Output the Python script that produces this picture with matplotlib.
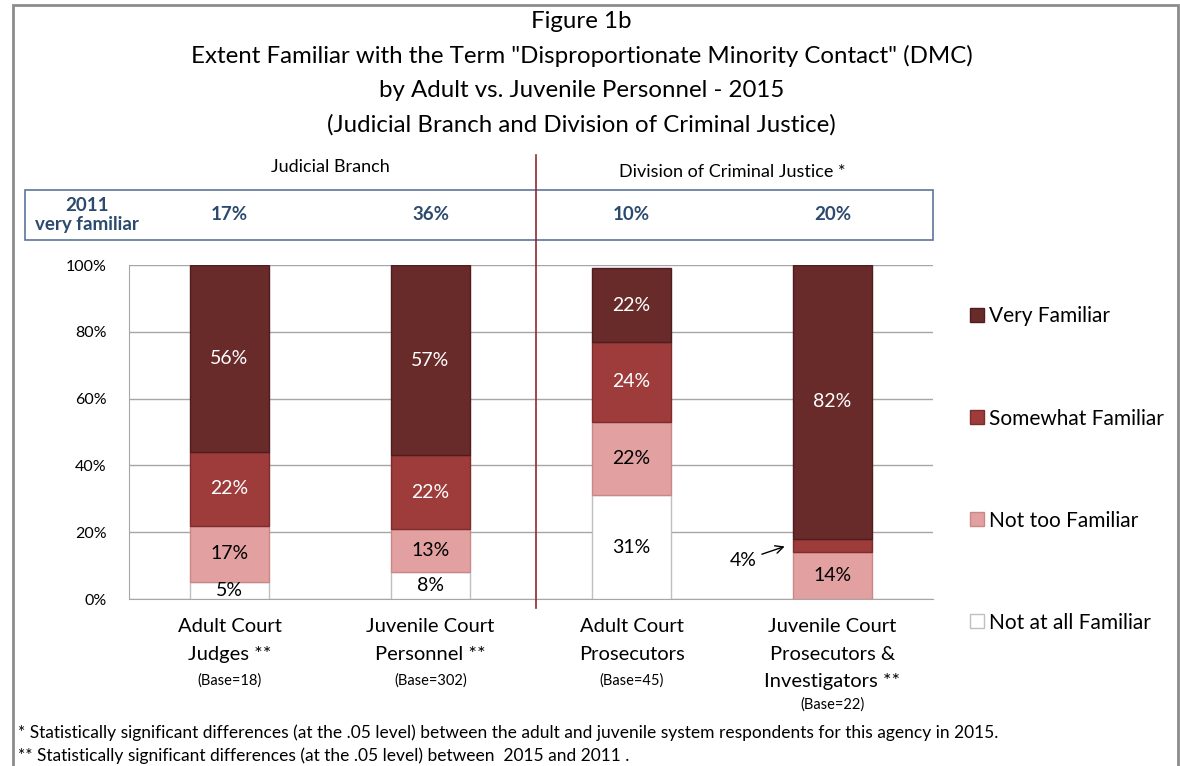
import matplotlib.pyplot as plt
from matplotlib.patches import Rectangle
import numpy as np

plt.rcParams['font.family'] = ['Lato', 'DejaVu Sans']

# Data
groups = ['Adult Court\nJudges **', 'Juvenile Court\nPersonnel **',
          'Adult Court\nProsecutors', 'Juvenile Court\nProsecutors &\nInvestigators **']
bases = ['(Base=18)', '(Base=302)', '(Base=45)', '(Base=22)']
levels = ['Not at all Familiar', 'Not too Familiar', 'Somewhat Familiar', 'Very Familiar']
not_at_all = [5, 8, 31, 0]
not_too = [17, 13, 22, 14]
somewhat = [22, 22, 24, 4]
very = [56, 57, 22, 82]
very_2011 = ['17%', '36%', '10%', '20%']

colors = ['#FFFFFF', '#E3A0A0', '#9E3B3B', '#692A2A']
edges = ['#BFBFBF', '#C98888', '#7E2C2C', '#4E1E1E']
text_colors = ['black', 'black', 'white', 'white']

fig = plt.figure(figsize=(11.8, 7.66), dpi=100)
ax = fig.add_axes([0.1093, 0.218, 0.6814, 0.436])

x = np.arange(len(groups))
width = 0.39
bottom = np.zeros(len(groups))
bars = []
for vals, lab, c, ec, tc in zip([not_at_all, not_too, somewhat, very], levels,
                               colors, edges, text_colors):
    b = ax.bar(x, vals, width, bottom=bottom, color=c, edgecolor=ec,
               linewidth=1.0, label=lab, zorder=3)
    bars.append(b)
    for xi, v, b0 in zip(x, vals, bottom):
        if v >= 5:
            ax.text(xi, b0 + v / 2, f'{v}%', ha='center', va='center',
                    fontsize=14, color=tc, zorder=4)
    bottom += np.array(vals)

# small somewhat-familiar slice gets an arrow label
ax.annotate(f'{somewhat[3]}%', xy=(3 - width / 2 - 0.03, not_at_all[3] + not_too[3] + somewhat[3] / 2),
            xytext=(2.555, not_at_all[3] + not_too[3] + somewhat[3] / 2 - 4.5),
            ha='center', va='center', fontsize=14,
            arrowprops=dict(arrowstyle='->', color='black', lw=1.0))

ax.set_xlim(-0.5, 3.5)
ax.set_ylim(0, 100)
ax.set_yticks(np.arange(0, 101, 20))
ax.set_yticklabels([f'{v}%' for v in range(0, 101, 20)], fontsize=11.5)
ax.yaxis.grid(True, color='#A6A6A6', linewidth=1.0, zorder=0)
ax.set_axisbelow(True)
ax.tick_params(axis='y', length=0, pad=16)
ax.tick_params(axis='x', length=0, pad=14)
ax.set_xticks(x)
ax.set_xticklabels(groups, fontsize=14.5, linespacing=1.72, va='top')
for s in ['top', 'right']:
    ax.spines[s].set_visible(False)
ax.spines['left'].set_color('#A6A6A6')
ax.spines['bottom'].set_color('#A6A6A6')

for xi, b in zip(x, bases):
    n_lines = groups[xi].count('\n') + 1
    ax.text(xi, -24.3 - (n_lines - 2) * 7.4, b, ha='center', va='center', fontsize=10.5)

# divider between agencies
ax.plot([1.527, 1.527], [-2.7, 133], color='#8B2D2D', lw=1.2, clip_on=False, zorder=5)

# 2011 comparison strip
ax.add_patch(Rectangle((-1.015, 107.5), 4.515, 15, fill=False, edgecolor='#5B7597',
                       lw=1.2, clip_on=False))
ax.text(-0.71, 115, '2011\nvery familiar', ha='center', va='center', fontsize=13.5,
        fontweight='bold', color='#2C4A6E', linespacing=1.15)
for xi, v in zip(x, very_2011):
    ax.text(xi, 115, v, ha='center', va='center', fontsize=13.5, fontweight='bold',
            color='#2C4A6E')
ax.text(0.5, 129.5, 'Judicial Branch', ha='center', va='center', fontsize=13)
ax.text(2.5, 128, 'Division of Criminal Justice *', ha='center', va='center', fontsize=13)

# legend, top entry first
handles = bars[::-1]
leg = fig.legend(handles, levels[::-1], loc='upper left', bbox_to_anchor=(0.81, 0.619),
                 frameon=False, fontsize=15, handlelength=0.65, handleheight=0.65,
                 handletextpad=0.25, labelspacing=3.94, borderpad=0.2)

title_lines = ['Figure 1b',
               'Extent Familiar with the Term "Disproportionate Minority Contact" (DMC)',
               'by Adult vs. Juvenile Personnel - 2015',
               '(Judicial Branch and Division of Criminal Justice)']
for i, line in enumerate(title_lines):
    fig.text(0.493, 0.9713 - i * 0.0448, line, ha='center', va='center', fontsize=17.3)

fig.text(0.015, 0.043, '* Statistically significant differences (at the .05 level) between the adult '
         'and juvenile system respondents for this agency in 2015.', fontsize=12.5, va='center')
fig.text(0.015, 0.013, '** Statistically significant differences (at the .05 level) between  2015 '
         'and 2011 .', fontsize=12.5, va='center')

# outer frame
fig.add_artist(Rectangle((0.011, -0.01), 0.987, 1.004, transform=fig.transFigure,
                         fill=False, edgecolor='#8C8C8C', lw=2))

fig.savefig('out.png', dpi=100)
